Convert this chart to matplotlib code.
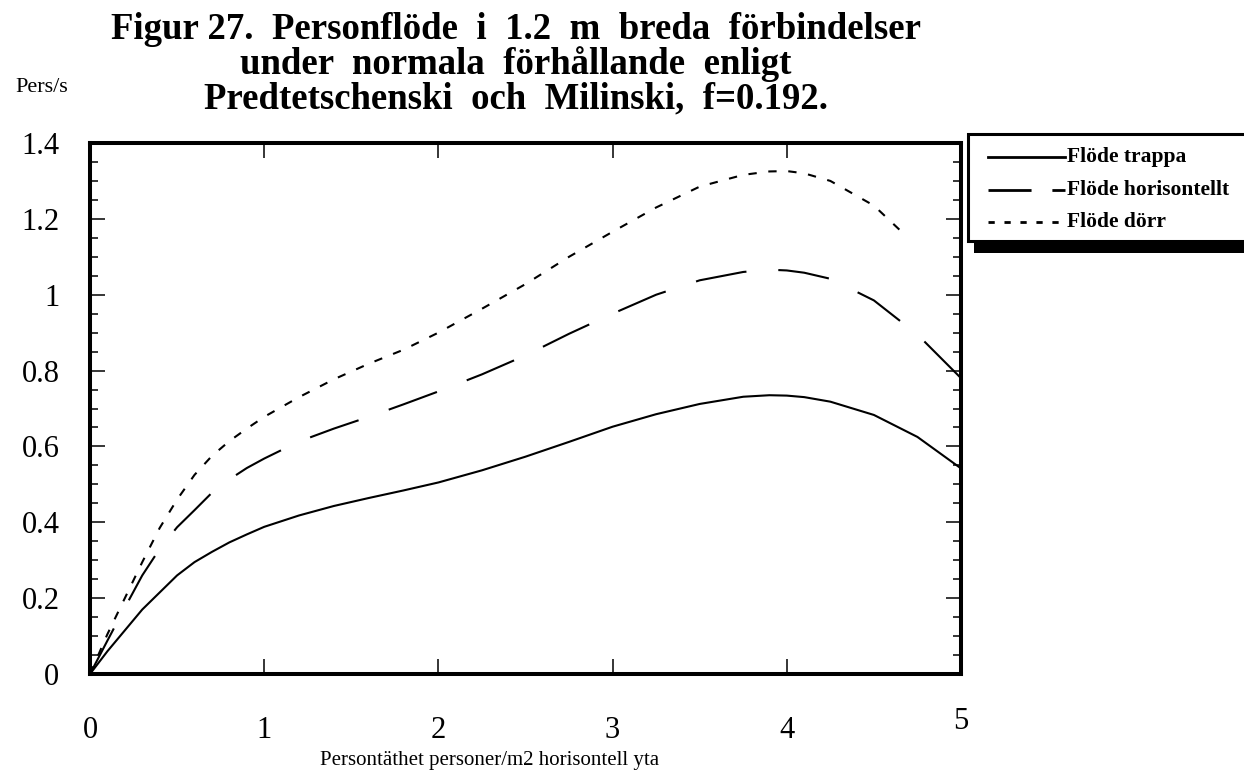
import matplotlib
matplotlib.use("Agg")
import matplotlib.pyplot as plt
from matplotlib.patches import Rectangle
from matplotlib.lines import Line2D
from matplotlib.ticker import MultipleLocator
import matplotlib.transforms as mtransforms

plt.rcParams['font.family'] = ['Liberation Serif', 'DejaVu Serif']
plt.rcParams['lines.scale_dashes'] = False

# ---- data ----
x_common = [0, 0.1, 0.2, 0.3, 0.4, 0.5, 0.6, 0.7, 0.8, 0.9, 1.0, 1.2, 1.4, 1.6, 1.8,
            2.0, 2.25, 2.5, 2.75, 3.0, 3.25, 3.5, 3.75, 3.9, 4.0, 4.1, 4.25, 4.5,
            4.75, 5.0]
flode_trappa = [0, 0.06, 0.115, 0.17, 0.215, 0.26, 0.295, 0.322, 0.347, 0.368, 0.388,
                0.418, 0.443, 0.464, 0.484, 0.505, 0.537, 0.573, 0.612, 0.652, 0.685,
                0.712, 0.731, 0.735, 0.734, 0.730, 0.718, 0.683, 0.625, 0.542]
flode_horisontellt = [0, 0.088, 0.175, 0.26, 0.33, 0.387, 0.432, 0.478, 0.513, 0.543,
                      0.568, 0.613, 0.647, 0.678, 0.711, 0.745, 0.79, 0.84, 0.897, 0.95,
                      1.0, 1.038, 1.060, 1.066, 1.064, 1.058, 1.042, 0.985, 0.895, 0.78]
x_dorr = [0, 0.1, 0.2, 0.3, 0.4, 0.5, 0.6, 0.7, 0.8, 0.9, 1.0, 1.2, 1.4, 1.6, 1.8,
          2.0, 2.25, 2.5, 2.75, 3.0, 3.25, 3.5, 3.75, 3.9, 4.0, 4.1, 4.25, 4.5, 4.68]
flode_dorr = [0, 0.105, 0.2, 0.295, 0.385, 0.46, 0.525, 0.575, 0.614, 0.647, 0.678,
              0.73, 0.777, 0.818, 0.855, 0.9, 0.963, 1.028, 1.1, 1.166, 1.23, 1.285,
              1.316, 1.325, 1.326, 1.320, 1.300, 1.235, 1.157]
series_labels = ["Flöde trappa", "Flöde horisontellt", "Flöde dörr"]
x_ticks = [0, 1, 2, 3, 4, 5]
y_ticks = [0, 0.2, 0.4, 0.6, 0.8, 1.0, 1.2, 1.4]
y_tick_labels = ["0", "0.2", "0.4", "0.6", "0.8", "1", "1.2", "1.4"]

W, H = 1244, 771
fig = plt.figure(figsize=(W / 100, H / 100), dpi=100)
fig.patch.set_facecolor("white")

ax_l, ax_r, ax_t, ax_b = 90, 961, 143, 674
ax = fig.add_axes([ax_l / W, 1 - ax_b / H, (ax_r - ax_l) / W, (ax_b - ax_t) / H])

lw = 1.5
long_dash = (37, 23)
short_dash = (6, 8.4)
ax.plot(x_common, flode_trappa, color="black", lw=lw, solid_capstyle="butt",
        solid_joinstyle="round")
ax.plot(x_common, flode_horisontellt, color="black", lw=lw, linestyle=(0, long_dash),
        dash_capstyle="butt", dash_joinstyle="round")
ax.plot(x_dorr, flode_dorr, color="black", lw=lw, linestyle=(0, short_dash),
        dash_capstyle="butt", dash_joinstyle="round")

ax.set_xlim(0, 5)
ax.set_ylim(0, 1.4)
ax.set_xticks(x_ticks)
ax.set_xticklabels([str(v) for v in x_ticks])
ax.set_yticks(y_ticks)
ax.set_yticklabels(y_tick_labels)
ax.yaxis.set_minor_locator(MultipleLocator(0.05))

for s in ax.spines.values():
    s.set_linewidth(2.9)
ax.tick_params(axis="both", which="major", direction="in", length=11, width=1.1,
               labelsize=22, top=True, right=True)
ax.tick_params(axis="y", which="minor", direction="in", length=6, width=1.1,
               left=True, right=True)
ax.tick_params(axis="x", which="major", pad=30)
ax.tick_params(axis="y", which="major", pad=22)

# the "5" label sits a bit higher in the reference
lbls = ax.get_xticklabels()
lbls[-1].set_transform(lbls[-1].get_transform() +
                       mtransforms.ScaledTranslation(0, 9 / 100, fig.dpi_scale_trans))

# ---- texts ----
fig.text(42 / W, 1 - 88 / H, "Pers/s", ha="center", va="center", fontsize=16)
fig.text(490 / W, 1 - 761 / H, "Persontäthet personer/m2 horisontell yta",
         ha="center", va="center", fontsize=15)
title_lines = ["Figur 27.  Personflöde  i  1.2  m  breda  förbindelser",
               "under  normala  förhållande  enligt",
               "Predtetschenski  och  Milinski,  f=0.192."]
baselines = [39, 74, 108]
for t, b in zip(title_lines, baselines):
    fig.text(516 / W, 1 - b / H, t, ha="center", va="baseline", fontsize=26.5,
             fontweight="bold")

# ---- legend box with shadow ----
fig.patches.append(Rectangle((974 / W, 1 - 253 / H), (1260 - 974) / W, (253 - 142) / H,
                             transform=fig.transFigure, facecolor="black",
                             edgecolor="none", zorder=5))
fig.patches.append(Rectangle((968 / W, 1 - 241 / H), (1260 - 968) / W, (241 - 134) / H,
                             transform=fig.transFigure, facecolor="white",
                             edgecolor="black", lw=2.2, zorder=6))
leg_y = [157, 190, 222]
styles = ["-", (0, (31, 15, 10, 30)), (0, (4.5, 7))]
for lab, yy, st in zip(series_labels, leg_y, styles):
    fig.add_artist(Line2D([988 / W, 1065 / W], [1 - yy / H, 1 - yy / H],
                          transform=fig.transFigure, color="black", lw=2.0,
                          linestyle=st, dash_capstyle="butt", zorder=7))
    fig.text(1067 / W, 1 - yy / H, lab, ha="left", va="center", fontsize=15.5,
             fontweight="bold", zorder=7)

fig.savefig("out.png", dpi=100, facecolor="white")
